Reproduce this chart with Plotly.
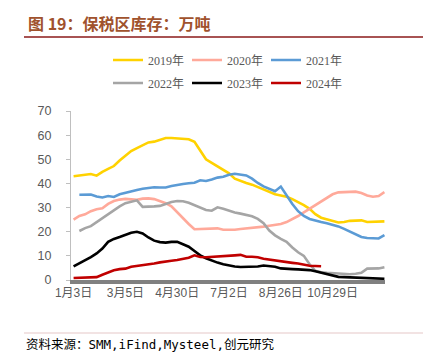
import plotly.graph_objects as go

tick_positions = [0, 9, 18, 27, 36, 45]
tick_labels = ["1月3日", "3月5日", "4月30日", "7月2日", "8月26日", "10月29日"]

y2019 = [43, 43.2, 43.7, 43.9, 43.2, 44.8, 46, 47.2, 49.5, 51.5, 53.4, 54.6, 55.8, 57, 57.3,
         58, 58.8, 58.8, 58.7, 58.6, 58.3, 57.2, 53.5, 50, 48.5, 47, 45.5, 44.2, 42, 41,
         40.2, 39.5, 38.5, 37.5, 36.5, 35.5, 35, 34.5, 33.5, 32.3, 31, 29.5, 27.3, 25.8, 25.2,
         24.5, 23.8, 24, 24.5, 24.6, 24.7, 24, 24.1, 24.2, 24.3]
y2020 = [25, 26.5, 27.2, 28.5, 29.3, 29.7, 31.5, 32.7, 33.3, 33.6, 33.4, 33.2, 33.7, 33.8, 33.5,
         32.8, 31.8, 30.5, 28, 25.8, 23.2, 21, 21.1, 21.2, 21.3, 21.4, 20.8, 20.7, 20.8, 21.1,
         21.3, 21.5, 21.8, 22.1, 22.5, 22.8, 23.2, 24, 25.2, 26.5, 28, 29.5, 31, 32.5, 34,
         35.5, 36.3, 36.5, 36.7, 36.6, 36, 35, 34.5, 34.8, 36.4]
y2021 = [None, 35.3, 35.3, 35.4, 34.6, 34.2, 34.8, 34.4, 35.5, 36.2, 36.8, 37.3, 37.8, 38.2, 38.4,
         38.3, 38.3, 38.9, 39.5, 39.8, 40.1, 40.3, 41.3, 41, 41.6, 42.4, 42.8, 43.6, 44, 43.8,
         43.3, 42, 40.2, 38.8, 37.8, 36.8, 38.7, 35, 31.5, 28.5, 26.5, 25.3, 24.5, 24, 23.5,
         23, 22.2, 21.2, 20, 18.8, 17.8, 17.4, 17.2, 17.2, 18.6]
y2022 = [None, 20.3, 21.5, 22.3, 24, 25.5, 27.2, 29, 30.5, 31.8, 32.3, 33, 30.3, 30.3, 30.5,
         30.7, 31.5, 32.3, 32.7, 32.6, 32, 31, 30, 29, 28.7, 30.1, 29.5, 28.7, 28, 27.5,
         26.8, 26.4, 25.3, 23.5, 20.5, 18.5, 17, 15.8, 13.5, 11.5, 10, 6.5, 3.8, 3.2, 3,
         2.8, 2.6, 2.4, 2.4, 2.6, 3, 4.7, 4.7, 4.8, 5.3]
y2023 = [5.6, 6.8, 8, 9.5, 11, 13, 15.8, 17, 17.8, 18.8, 19.6, 20, 19.3, 17.6, 16.3,
         15.7, 15.5, 15.8, 15.8, 14.8, 13.8, 12, 10.2, 9, 8, 7.2, 6.5, 6, 5.6, 5.4,
         5.4, 5.5, 5.6, 6, 5.8, 5.5, 4.8, 4.5, 4.5, 4.4, 4.3, 4.1, 3.6, 3.1, 2.5,
         1.8, 1.3, 1.2, 1.1, 1.1, 1, 0.9, 0.8, 0.7, 0.5]
y2024 = [0.8, 0.9, 0.9, 1, 1.2, 2.2, 3.2, 4, 4.5, 4.7, 5.5, 5.8, 6, 6.3, 6.8,
         7.3, 7.5, 8, 8.3, 8.6, 9.2, 10.2, 9.5, 9.4, 9.5, 9.6, 9.8, 10, 10.2, 10.4,
         9.6, 9.6, 9.4, 8.8, 8.4, 8, 7.6, 7.3, 7.1, 6.8, 6.3, 5.9, 5.8, 5.7]

series_names = ["2019年", "2020年", "2021年", "2022年", "2023年", "2024年"]
series_values = [y2019, y2020, y2021, y2022, y2023, y2024]
series_colors = ["#FFD200", "#FFA99A", "#5B9BD5", "#A5A5A5", "#000000", "#C00000"]

W, H = 431, 357
L, R, T, B = 63, 54, 103, 85
PW, PH = W - L - R, H - T - B


def px_x(px):
    return (px - L) / PW


def px_y(py):
    return (H - B - py) / PH


fig = go.Figure()
for k, (name, vals, col) in enumerate(zip(series_names, series_values, series_colors)):
    fig.add_trace(go.Scatter(
        x=list(range(len(vals))), y=vals, name=name, mode="lines",
        line=dict(color=col, width=2.6), connectgaps=False,
        legend="legend" if k < 3 else "legend2",
        hoverinfo="skip",
    ))

legend_font = dict(family="Liberation Serif, Noto Sans CJK SC", size=12, color="#595959")
legend_common = dict(orientation="h", xanchor="left", yanchor="middle", font=legend_font,
                     bgcolor="rgba(0,0,0,0)", itemwidth=30, tracegroupgap=0,
                     entrywidth=34, entrywidthmode="pixels")
fig.update_layout(
    width=W, height=H,
    margin=dict(l=L, r=R, t=T, b=B),
    paper_bgcolor="white", plot_bgcolor="white",
    showlegend=True,
    legend=dict(x=px_x(100), y=px_y(52), **legend_common),
    legend2=dict(x=px_x(100), y=px_y(75), **legend_common),
    xaxis=dict(range=[-0.45, 54.1], tickvals=tick_positions, ticktext=tick_labels,
               showgrid=False, zeroline=False, showline=True, linecolor="#808080", linewidth=4,
               ticks="", tickfont=dict(family="Liberation Sans, Noto Sans CJK SC", size=12, color="#595959"),
               ticklabelstandoff=-1),
    yaxis=dict(range=[0, 70], tickvals=[0, 10, 20, 30, 40, 50, 60, 70],
               showgrid=False, zeroline=False, showline=True, linecolor="#BFBFBF", linewidth=1,
               ticks="outside", ticklen=4, tickcolor="#BFBFBF",
               tickfont=dict(family="Liberation Sans", size=12.5, color="#595959"),
               ticklabelstandoff=12),
    font=dict(family="Liberation Sans, Noto Sans CJK SC"),
)

fig.add_annotation(text="<b>图 19：保税区库存：万吨</b>", xref="paper", yref="paper",
                   x=px_x(18), y=px_y(15), xanchor="left", yanchor="middle", showarrow=False,
                   font=dict(family="Noto Sans CJK SC", size=16, color="#A0522D"))
fig.add_annotation(text="资料来源：SMM,iFind,Mysteel,创元研究", xref="paper", yref="paper",
                   x=px_x(16), y=px_y(336), xanchor="left", yanchor="middle", showarrow=False,
                   font=dict(family="DejaVu Sans Mono, Noto Sans CJK SC", size=12.5, color="#000000"))
fig.add_shape(type="line", xref="paper", yref="paper", x0=px_x(16), x1=px_x(431),
              y0=px_y(29), y1=px_y(29), line=dict(color="#8B1A1A", width=1.5))
fig.add_shape(type="line", xref="paper", yref="paper", x0=px_x(16), x1=px_x(431),
              y0=px_y(325), y1=px_y(325), line=dict(color="#E6C8C8", width=1.2))

fig.write_html("out.html")
